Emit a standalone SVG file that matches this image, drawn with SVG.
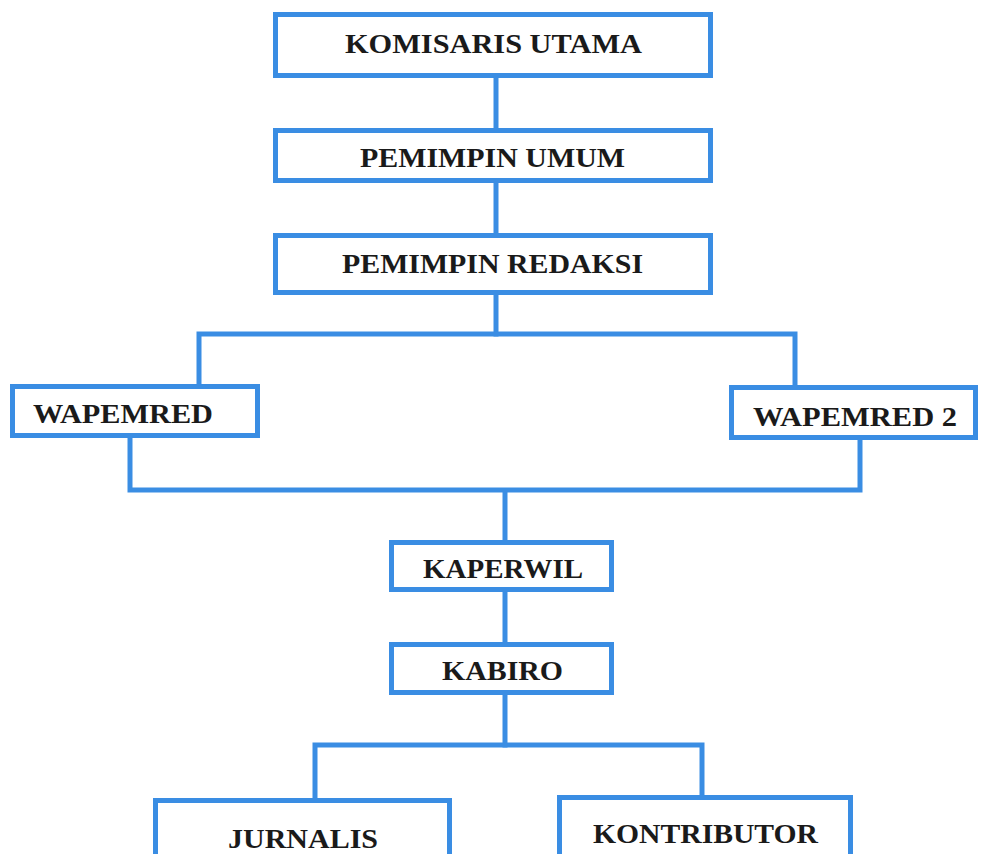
<svg xmlns="http://www.w3.org/2000/svg" width="981" height="854" viewBox="0 0 981 854">
<style>
.box{fill:#fff;stroke:#3a8de3;stroke-width:5}
.ln{fill:none;stroke:#3a8de3;stroke-width:5;stroke-linecap:square;stroke-linejoin:miter}
.t{font-family:"Liberation Serif","Times New Roman",serif;font-weight:bold;font-size:28px;fill:#1a1a1a;text-anchor:middle}
</style>
<rect width="981" height="854" fill="#fff"/>
<g id="connectors">
<path class="ln" d="M496 78V128M496 183V233M496 295V334"/>
<path class="ln" d="M199 384V334H795V385"/>
<path class="ln" d="M130 438V490H860V440M505 490V540"/>
<path class="ln" d="M505 592V642M505 695V745"/>
<path class="ln" d="M315 798V745H702V795"/>
</g>
<g id="komisaris-utama"><rect class="box" x="275.5" y="14.5" width="435" height="61"/><text class="t" x="493.5" y="53" textLength="297" lengthAdjust="spacingAndGlyphs">KOMISARIS UTAMA</text></g>
<g id="pemimpin-umum"><rect class="box" x="275.5" y="130.5" width="435" height="50"/><text class="t" x="492.5" y="167" textLength="265" lengthAdjust="spacingAndGlyphs">PEMIMPIN UMUM</text></g>
<g id="pemimpin-redaksi"><rect class="box" x="275.5" y="235.5" width="435" height="57"/><text class="t" x="492.5" y="273" textLength="301" lengthAdjust="spacingAndGlyphs">PEMIMPIN REDAKSI</text></g>
<g id="wapemred"><rect class="box" x="12.5" y="386.5" width="245" height="49"/><text class="t" x="123" y="423" textLength="180" lengthAdjust="spacingAndGlyphs">WAPEMRED</text></g>
<g id="wapemred-2"><rect class="box" x="731.5" y="387.5" width="244" height="50"/><text class="t" x="855" y="426" textLength="204" lengthAdjust="spacingAndGlyphs">WAPEMRED 2</text></g>
<g id="kaperwil"><rect class="box" x="391.5" y="542.5" width="220" height="47"/><text class="t" x="503" y="578" textLength="160" lengthAdjust="spacingAndGlyphs">KAPERWIL</text></g>
<g id="kabiro"><rect class="box" x="391.5" y="644.5" width="220" height="48"/><text class="t" x="502.5" y="680" textLength="121" lengthAdjust="spacingAndGlyphs">KABIRO</text></g>
<g id="jurnalis"><rect class="box" x="155.5" y="800.5" width="294" height="60"/><text class="t" x="303" y="848" textLength="150" lengthAdjust="spacingAndGlyphs">JURNALIS</text></g>
<g id="kontributor"><rect class="box" x="559.5" y="797.5" width="291" height="60"/><text class="t" x="705.5" y="843" textLength="225" lengthAdjust="spacingAndGlyphs">KONTRIBUTOR</text></g>
</svg>
